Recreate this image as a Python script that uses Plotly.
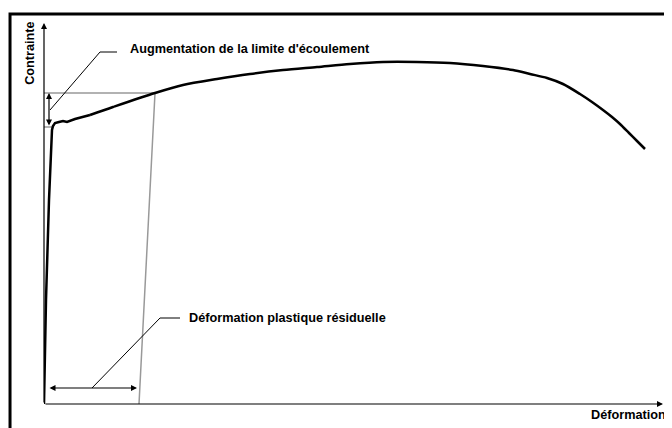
import plotly.graph_objects as go

# tensile curve (strain in %, stress in MPa)
strain = [0, 0.1, 0.25, 0.35, 0.4, 0.45, 0.55, 0.75, 0.95, 1.15, 1.3, 1.55, 2.3, 3.45,
          5.55, 6.95, 8.65, 10.3, 11.95, 13.65, 15.3, 16.95, 18.65, 20.3, 21.95, 23.45,
          24.3, 25.15, 25.95, 26.8, 27.4, 27.95, 28.4, 28.8, 29.25, 29.65, 30.05]
stress = [0, 104, 204, 254, 274, 278, 281, 282, 283, 282, 283, 285, 289, 297,
          311, 319, 325, 330, 334, 337, 340, 342, 342, 341, 338, 334,
          330, 326, 320, 310, 302, 294, 287, 280, 271, 263, 255]
n_elastic = 12  # points before smooth hardening part

yield_initial = 277
yield_new = 311
reload_strain = 5.55
residual_strain = 4.75

x_max = 31
y_max = 381

label_font = dict(family="Liberation Sans, Arial", size=12.7, color="black")

fig = go.Figure()

# unloading / reloading guides
fig.add_trace(go.Scatter(x=[0, reload_strain, residual_strain], y=[yield_new, yield_new, 0],
                         mode="lines", line=dict(color="#999999", width=1.5), hoverinfo="skip"))
fig.add_trace(go.Scatter(x=[0, 0.4], y=[yield_initial, yield_initial],
                         mode="lines", line=dict(color="#999999", width=1.5), hoverinfo="skip"))

# elastic + yield part (linear), hardening + necking (smooth)
fig.add_trace(go.Scatter(x=strain[:n_elastic + 1], y=stress[:n_elastic + 1], mode="lines",
                         line=dict(color="black", width=2.5), hoverinfo="skip"))
fig.add_trace(go.Scatter(x=strain[n_elastic:], y=stress[n_elastic:], mode="lines",
                         line=dict(color="black", width=2.5, shape="spline", smoothing=0.8),
                         hoverinfo="skip"))

# leader lines
fig.add_trace(go.Scatter(x=[0.3, 2.8, 3.65], y=[294, 352, 352], mode="lines",
                         line=dict(color="black", width=1), hoverinfo="skip"))
fig.add_trace(go.Scatter(x=[2.4, 5.8, 6.8], y=[16, 86, 86], mode="lines",
                         line=dict(color="black", width=1), hoverinfo="skip"))

def arrow(x0, y0, x1, y1, both=False):
    fig.add_annotation(x=x1, y=y1, ax=x0, ay=y0, xref="x", yref="y", axref="x", ayref="y",
                       text="", showarrow=True, arrowhead=2, arrowsize=1, arrowwidth=1.2,
                       arrowcolor="black", arrowside="end+start" if both else "end",
                       standoff=0, startstandoff=0)

# axes with arrows
arrow(0, 0, x_max - 0.05, 0)
arrow(0, 0, 0, y_max)

# dimension arrows
arrow(0.25, yield_initial, 0.25, yield_new, both=True)
arrow(0.2, 16, residual_strain - 0.1, 16, both=True)

fig.add_annotation(x=4.2, y=355, xref="x", yref="y", text="<b>Augmentation de la limite d'écoulement</b>",
                   showarrow=False, xanchor="left", yanchor="middle", font=label_font)
fig.add_annotation(x=7.15, y=86, xref="x", yref="y", text="<b>Déformation plastique résiduelle</b>",
                   showarrow=False, xanchor="left", yanchor="middle", font=label_font)

fig.add_annotation(x=-0.0226, y=0.924, xref="paper", yref="paper", text="<b>Contrainte</b>",
                   textangle=-90, showarrow=False, xanchor="center", yanchor="middle", font=label_font)
fig.add_annotation(x=1.006, y=-0.029, xref="paper", yref="paper", text="<b>Déformation</b>",
                   showarrow=False, xanchor="right", yanchor="middle", font=label_font)

# outer frame (open at right and bottom)
fig.add_shape(type="rect", xref="paper", yref="paper", x0=-0.0548, y0=-0.3, x1=1.3, y1=1.0263,
              line=dict(color="black", width=3))

fig.update_xaxes(range=[0, x_max], visible=False)
fig.update_yaxes(range=[0, 380], visible=False)
# page body adds an 8px offset, so the figure is 8px smaller and margins shifted
fig.update_layout(width=664, height=420, showlegend=False,
                  margin=dict(l=36, r=8, t=16, b=24),
                  plot_bgcolor="white", paper_bgcolor="white")

fig.write_html("out.html")
